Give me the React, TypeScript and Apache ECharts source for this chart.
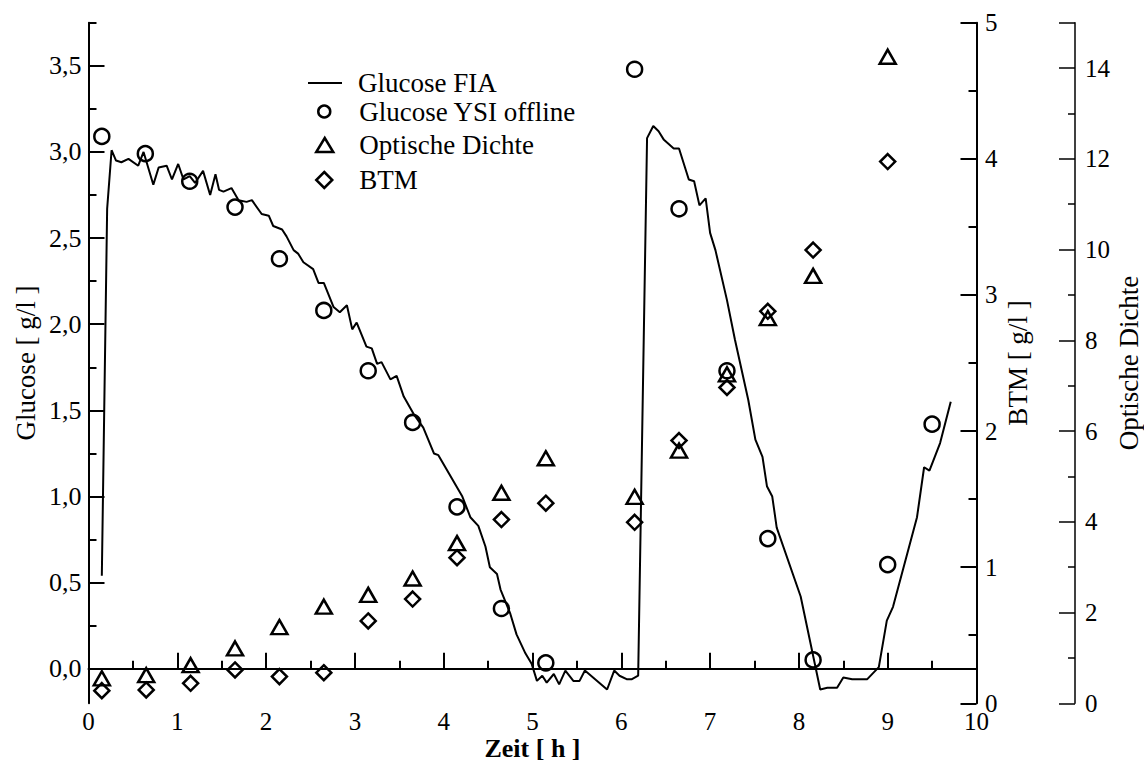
import React, { useEffect, useRef } from "react";
import * as echarts from "echarts";

const FONT = "Liberation Serif";

// Glucose FIA (online) trace: time [h] / glucose [g/l]
const fiaTime = [0.15,0.21,0.26,0.31,0.37,0.45,0.56,0.62,0.73,0.79,0.88,0.94,1.01,1.07,1.14,1.20,1.29,1.37,1.43,1.47,1.52,1.61,1.69,1.78,1.84,1.95,2.03,2.08,2.18,2.23,2.31,2.36,2.42,2.53,2.59,2.65,2.76,2.83,2.91,2.97,3.02,3.13,3.19,3.25,3.30,3.40,3.47,3.55,3.66,3.77,3.89,3.94,4.21,4.30,4.39,4.47,4.52,4.60,4.64,4.75,4.82,4.92,4.99,5.05,5.11,5.16,5.24,5.30,5.37,5.46,5.53,5.59,5.84,5.92,5.98,6.06,6.12,6.19,6.29,6.36,6.42,6.48,6.59,6.65,6.76,6.82,6.88,6.95,7.00,7.06,7.19,7.28,7.43,7.51,7.59,7.64,7.70,7.75,8.02,8.24,8.32,8.43,8.50,8.60,8.77,8.90,8.99,9.06,9.33,9.41,9.47,9.59,9.71];
const fiaGlucose = [0.54,2.67,3.01,2.95,2.94,2.96,2.92,3.00,2.81,2.91,2.92,2.84,2.93,2.84,2.86,2.82,2.89,2.75,2.87,2.78,2.77,2.79,2.72,2.71,2.72,2.64,2.63,2.57,2.55,2.51,2.43,2.41,2.36,2.32,2.24,2.24,2.10,2.07,2.11,1.97,2.01,1.87,1.86,1.77,1.78,1.68,1.70,1.58,1.48,1.40,1.25,1.24,1.00,0.88,0.83,0.71,0.59,0.55,0.46,0.32,0.20,0.09,0.03,-0.07,-0.04,-0.08,-0.03,-0.09,-0.01,-0.07,-0.07,-0.01,-0.12,-0.01,-0.04,-0.06,-0.06,-0.04,3.08,3.15,3.12,3.07,3.02,3.02,2.84,2.83,2.69,2.73,2.53,2.43,2.14,1.91,1.56,1.33,1.23,1.06,1.00,0.82,0.42,-0.12,-0.11,-0.11,-0.05,-0.06,-0.06,0.01,0.28,0.36,0.88,1.17,1.15,1.31,1.55];

// Glucose YSI offline samples
const ysiTime = [0.15,0.64,1.14,1.65,2.15,2.65,3.15,3.65,4.15,4.65,5.15,6.15,6.65,7.19,7.65,8.16,9.0,9.5];
const ysiGlucose = [3.09,2.99,2.83,2.68,2.38,2.08,1.73,1.43,0.94,0.35,0.035,3.48,2.67,1.73,0.756,0.052,0.605,1.42];

// Optical density and BTM samples
const sampleTime = [0.15,0.65,1.15,1.65,2.15,2.65,3.15,3.65,4.15,4.65,5.15,6.15,6.65,7.19,7.65,8.16,9.0];
const odValues = [0.55,0.62,0.84,1.21,1.68,2.13,2.39,2.75,3.53,4.64,5.40,4.55,5.57,7.25,8.49,9.42,14.25];
const btmValues = [0.093,0.098,0.147,0.245,0.196,0.225,0.605,0.766,1.07,1.35,1.47,1.33,1.93,2.32,2.88,3.33,3.98];

// Axis ticks
const glucoseMajorTicks = [0, 0.5, 1, 1.5, 2, 2.5, 3, 3.5];
const glucoseMinorTicks = [0.25, 0.75, 1.25, 1.75, 2.25, 2.75, 3.25, 3.75];
const odMajorTicks = [0, 2, 4, 6, 8, 10, 12, 14, 15];
const odLabelTicks = [0, 2, 4, 6, 8, 10, 12, 14];
const odMinorTicks = [1, 3, 5, 7, 9, 11, 13];

const seriesNames = ["Glucose FIA", "Glucose YSI offline", "Optische Dichte", "BTM"];
const legendIcons = ["rect", "circle", "triangle", "diamond"];
const legendTops = [69.5, 98, 131.5, 166.5];

export default function App() {
  const ref = useRef<HTMLDivElement>(null);

  useEffect(() => {
    if (!ref.current) return;
    const chart = echarts.init(ref.current, null, { renderer: "svg" });

    const black = "#000";
    const txt = (size: number, extra: any = {}) => ({ color: black, fontSize: size, fontFamily: FONT, ...extra });
    const line = (w: number) => ({ lineStyle: { color: black, width: w } });

    const hollow = { color: "rgba(255,255,255,0)", opacity: 1, borderColor: black, borderWidth: 2.5 };
    const noEmph = { disabled: true };

    // legend geometry: [left, itemWidth, itemHeight]
    const legendBox = [
      [308, 34, 2],
      [317, 12, 12],
      [315, 17, 14],
      [315, 16, 16],
    ];
    const textStart = 358;

    const option: any = {
      animation: false,
      backgroundColor: "#fff",
      textStyle: { fontFamily: FONT },
      grid: { left: 88.5, right: 167.5, top: 22.7, bottom: 58.7, containLabel: false, outerBoundsMode: "none" },
      legend: seriesNames.map((n, i) => {
        const [left, w, h] = legendBox[i];
        return {
          data: [{ name: n, icon: legendIcons[i] }],
          left,
          top: legendTops[i],
          orient: "vertical",
          padding: 0,
          itemWidth: w,
          itemHeight: h,
          symbolKeepAspect: false,
          selectedMode: false,
          itemStyle:
            i === 0
              ? { color: black, borderWidth: 0, opacity: 1 }
              : { color: "rgba(255,255,255,0)", borderColor: black, borderWidth: 2.5, opacity: 1 },
          lineStyle: { width: 0 },
          textStyle: txt(27, { lineHeight: 27, padding: [0, 0, 0, Math.max(0, textStart - left - w - 5)] }),
        };
      }),
      xAxis: {
        type: "value",
        min: 0,
        max: 10,
        interval: 1,
        axisLine: line(2),
        axisTick: { inside: true, length: 16, ...line(2) },
        minorTick: { show: true, splitNumber: 2, length: 8, ...line(2) },
        splitLine: { show: false },
        minorSplitLine: { show: false },
        axisLabel: txt(25, { margin: 6 }),
        name: "Zeit [ h ]",
        nameLocation: "middle",
        nameGap: 32,
        nameMoveOverlap: false,
        nameTextStyle: txt(26, { fontWeight: "bold" }),
      },
      yAxis: [
        {
          type: "value",
          position: "left",
          min: -0.2,
          max: 3.75,
          axisLine: { show: true, ...line(2) },
          axisTick: { show: true, inside: true, length: 16, customValues: glucoseMajorTicks, ...line(2) },
          axisLabel: {
            ...txt(26),
            margin: 7,
            customValues: glucoseMajorTicks,
            formatter: (v: number) => v.toFixed(1).replace(".", ","),
          },
          splitLine: { show: false },
          name: "Glucose [ g/l ]",
          nameLocation: "middle",
          nameRotate: 90,
          nameGap: 49,
          nameMoveOverlap: false,
          nameTextStyle: txt(27),
        },
        {
          type: "value",
          position: "left",
          min: -0.2,
          max: 3.75,
          axisLine: { show: false },
          axisTick: { show: true, inside: true, length: 8, customValues: glucoseMinorTicks, ...line(2) },
          axisLabel: { show: false },
          splitLine: { show: false },
        },
        {
          type: "value",
          position: "right",
          min: 0,
          max: 5,
          interval: 1,
          axisLine: { show: true, ...line(2) },
          axisTick: { show: true, inside: true, length: 16, ...line(2) },
          minorTick: { show: true, splitNumber: 2, length: 8, ...line(2) },
          minorSplitLine: { show: false },
          axisLabel: txt(25, { margin: 8.5 }),
          splitLine: { show: false },
          name: "BTM [ g/l ]",
          nameLocation: "middle",
          nameRotate: 90,
          nameGap: 28,
          nameMoveOverlap: false,
          nameTextStyle: txt(27),
        },
        {
          type: "value",
          position: "right",
          offset: 98.5,
          min: 0,
          max: 15,
          axisLine: { show: true, ...line(1.5) },
          axisTick: { show: true, inside: true, length: 16, customValues: odMajorTicks, ...line(1.5) },
          axisLabel: { ...txt(25), margin: 10, customValues: odLabelTicks },
          splitLine: { show: false },
          name: "Optische Dichte",
          nameLocation: "middle",
          nameRotate: 90,
          nameGap: 40,
          nameMoveOverlap: false,
          nameTextStyle: txt(27),
        },
        {
          type: "value",
          position: "right",
          offset: 98.5,
          min: 0,
          max: 15,
          axisLine: { show: false },
          axisTick: { show: true, inside: true, length: 7, customValues: odMinorTicks, ...line(1.5) },
          axisLabel: { show: false },
          splitLine: { show: false },
        },
      ],
      series: [
        {
          name: seriesNames[0],
          type: "line",
          yAxisIndex: 0,
          data: fiaTime.map((t, i) => [t, fiaGlucose[i]]),
          symbol: "none",
          showSymbol: false,
          lineStyle: { color: black, width: 2 },
          itemStyle: { color: black },
          emphasis: noEmph,
          z: 4,
        },
        {
          name: seriesNames[1],
          type: "scatter",
          yAxisIndex: 0,
          data: ysiTime.map((t, i) => [t, ysiGlucose[i]]),
          symbol: "circle",
          symbolSize: 15,
          itemStyle: hollow,
          emphasis: noEmph,
          z: 3,
        },
        {
          name: seriesNames[2],
          type: "scatter",
          yAxisIndex: 3,
          data: sampleTime.map((t, i) => [t, odValues[i]]),
          symbol: "triangle",
          symbolSize: [16, 14],
          itemStyle: hollow,
          emphasis: noEmph,
          z: 3,
        },
        {
          name: seriesNames[3],
          type: "scatter",
          yAxisIndex: 2,
          data: sampleTime.map((t, i) => [t, btmValues[i]]),
          symbol: "diamond",
          symbolSize: 15,
          itemStyle: hollow,
          emphasis: noEmph,
          z: 3,
        },
      ],
    };

    chart.setOption(option);
    return () => chart.dispose();
  }, []);

  return (
    <div
      ref={ref}
      style={{ position: "fixed", left: 0, top: 0, width: 1144, height: 762, background: "#fff" }}
    />
  );
}
